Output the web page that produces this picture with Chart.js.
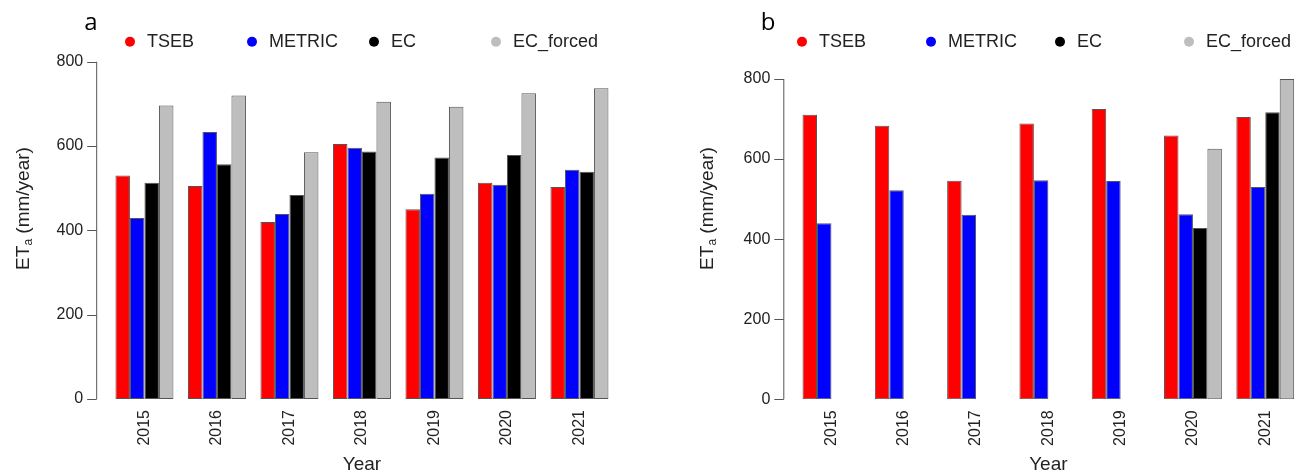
<!DOCTYPE html>
<html>
<head>
<meta charset="utf-8">
<title>ETa per year</title>
<script src="https://cdn.jsdelivr.net/npm/chart.js@4.4.0/dist/chart.umd.min.js"></script>
<style>
    body { margin: 0; width: 1298px; height: 476px; overflow: hidden; background: #fff; position: relative; }
    .panel { position: absolute; top: 0; }
</style>
</head>
<body>
<div class="panel" style="left:0"><canvas id="chartA" width="649" height="476"></canvas></div>
<div class="panel" style="left:649px"><canvas id="chartB" width="660" height="476"></canvas></div>
<script>
// data
const years = ['2015', '2016', '2017', '2018', '2019', '2020', '2021'];
const seriesNames = ['TSEB', 'METRIC', 'EC', 'EC_forced'];
const seriesColors = ['#ff0000', '#0000ff', '#000000', '#bebebe'];
const yTicks = [0, 200, 400, 600, 800];

// panel a
const tsebA = [530, 505, 420, 605, 450, 513, 503];
const metricA = [429, 633, 439, 596, 487, 508, 544];
const ecA = [513, 557, 484, 587, 573, 579, 539];
const ecForcedA = [696, 720, 585, 705, 693, 725, 737];

// panel b
const tsebB = [711, 683, 546, 689, 725, 659, 705];
const metricB = [440, 522, 461, 547, 545, 462, 530];
const ecB = [null, null, null, null, null, 428, 717];
const ecForcedB = [null, null, null, null, null, 626, 800];

const FONT = '"Liberation Sans", Arial, sans-serif';
const INK = '#222';

// axis line, legend, y title with subscript, panel letter
const decor = {
    id: 'panelDecor',
    afterDraw(chart, args, opts) {
        const ctx = chart.ctx;
        const y = chart.scales.y;
        const area = chart.chartArea;
        ctx.save();

        // R style y axis, detached from the bars
        const ax = area.left - 12;
        ctx.strokeStyle = '#555';
        ctx.lineWidth = 1;
        ctx.beginPath();
        ctx.moveTo(ax + 0.5, y.getPixelForValue(yTicks[0]));
        ctx.lineTo(ax + 0.5, y.getPixelForValue(yTicks[yTicks.length - 1]));
        yTicks.forEach(v => {
            const py = Math.round(y.getPixelForValue(v)) + 0.5;
            ctx.moveTo(ax + 0.5, py);
            ctx.lineTo(ax - 9, py);
        });
        ctx.stroke();

        // legend
        ctx.font = '18px ' + FONT;
        ctx.textBaseline = 'middle';
        ctx.textAlign = 'left';
        chart.data.datasets.forEach((ds, i) => {
            const lx = opts.legendX + i * opts.legendStep;
            ctx.fillStyle = ds.backgroundColor;
            ctx.beginPath();
            ctx.arc(lx, opts.legendY, 5, 0, Math.PI * 2);
            ctx.fill();
            ctx.fillStyle = INK;
            ctx.fillText(ds.label, lx + 17, opts.legendY);
        });

        // y title: ET with subscript a
        ctx.translate(opts.titleX, opts.titleY);
        ctx.rotate(-Math.PI / 2);
        const big = '19px ' + FONT, small = '12px ' + FONT;
        ctx.font = big;
        const w1 = ctx.measureText('ET').width;
        const w3 = ctx.measureText(' (mm/year)').width;
        ctx.font = small;
        const w2 = ctx.measureText('a').width;
        let x = -(w1 + w2 + w3) / 2;
        ctx.fillStyle = INK;
        ctx.font = big;
        ctx.fillText('ET', x, 0);
        x += w1;
        ctx.font = small;
        ctx.fillText('a', x, 5);
        x += w2;
        ctx.font = big;
        ctx.fillText(' (mm/year)', x, 0);
        ctx.setTransform(1, 0, 0, 1, 0, 0);

        // panel letter
        ctx.font = '24px "Open Sans", sans-serif';
        ctx.fillStyle = '#000';
        ctx.textAlign = 'center';
        ctx.textBaseline = 'alphabetic';
        ctx.fillText(opts.tag, opts.tagX, 30);
        ctx.restore();
    }
};

function makeChart(id, values, box, deco) {
    const datasets = values.map((vals, i) => ({
        label: seriesNames[i],
        data: vals,
        backgroundColor: seriesColors[i],
        borderColor: '#555',
        borderWidth: 1,
        borderSkipped: false,
        barPercentage: 1,
        categoryPercentage: 0.8
    }));
    return new Chart(document.getElementById(id), {
        type: 'bar',
        data: { labels: years, datasets: datasets },
        options: {
            responsive: false,
            animation: false,
            layout: { padding: { top: box.top, right: box.right, bottom: 0, left: 0 } },
            plugins: {
                legend: { display: false },
                tooltip: { enabled: false },
                panelDecor: deco
            },
            scales: {
                x: {
                    grid: { display: false, drawTicks: false },
                    border: { display: false },
                    ticks: {
                        color: INK, font: { family: FONT, size: 16 },
                        minRotation: 90, maxRotation: 90, padding: 11, autoSkip: false
                    },
                    title: {
                        display: true, text: 'Year', color: INK,
                        font: { family: FONT, size: 19 }, padding: { top: 0, bottom: 0 }
                    },
                    afterFit: s => { s.height = box.bottom; }
                },
                y: {
                    min: 0,
                    max: 800,
                    grid: { display: false, drawTicks: false },
                    border: { display: false },
                    ticks: { color: INK, font: { family: FONT, size: 16 }, padding: 25 },
                    afterBuildTicks: s => { s.ticks = yTicks.map(v => ({ value: v })); },
                    afterFit: s => { s.width = box.left; }
                }
            }
        },
        plugins: [decor]
    });
}

makeChart('chartA', [tsebA, metricA, ecA, ecForcedA],
    { left: 108.2, right: 33.3, top: 61.7, bottom: 77 },
    { legendX: 130, legendStep: 122, legendY: 41.7, titleX: 24, titleY: 208.5, tag: 'a', tagX: 91 });

makeChart('chartB', [tsebB, metricB, ecB, ecForcedB],
    { left: 146.3, right: 7.6, top: 79, bottom: 76.7 },
    { legendX: 153, legendStep: 129, legendY: 41.7, titleX: 59, titleY: 208.5, tag: 'b', tagX: 119 });
</script>
</body>
</html>
